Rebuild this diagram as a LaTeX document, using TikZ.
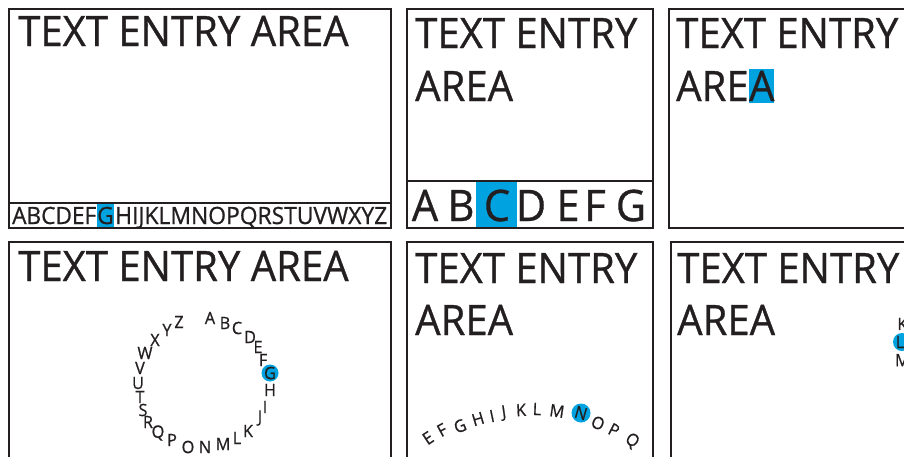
\documentclass[tikz,border=0pt]{standalone}
\usepackage{fontspec}
\setmainfont[FakeStretch=0.955,FakeBold=0.8]{Open Sans}
\usepackage{graphicx}
\usetikzlibrary{calc}
\definecolor{ink}{RGB}{35,31,32}
\definecolor{hl}{RGB}{0,163,224}
\begin{document}
\begin{tikzpicture}[x=1pt,y=-1pt,
  panel/.style={draw=ink, line width=2pt},
  divider/.style={draw=ink, line width=1.6pt},
  title/.style={anchor=base west, inner sep=0pt, text=ink, font=\fontsize{42}{42}\selectfont},
  striptext/.style={anchor=base west, inner sep=0pt, text=ink, font=\fontsize{23.8}{24}\selectfont},
  bigkey/.style={anchor=base, inner sep=0pt, text=ink, font=\fontsize{43.4}{44}\selectfont},
  smallkey/.style={inner sep=0pt, text=ink, font=\fontsize{17}{17}\selectfont},
  dot/.style={fill=hl, draw=none}]
\useasboundingbox (0,0) rectangle (904,456);
\clip (0,0) rectangle (904,456);
% ---------- panel 1 ----------
\fill[hl] (97,203) rectangle (114,227);
\draw[panel] (9,9) rectangle (391,228);
\draw[divider] (9,203) -- (391,203);
\node[title] (t1) at (18,46) {TEXT ENTRY AREA};
\node[striptext] (s1a) at (12,224) {\resizebox{84pt}{\height}{ABCDEF}};
\node[striptext, anchor=base] (s1b) at (105.5,224) {G};
\node[striptext] (s1c) at (115,224) {\resizebox{272pt}{\height}{HIJKLMNOPQRSTUVWXYZ}};
% ---------- panel 2 ----------
\fill[hl] (476,181) rectangle (517,227);
\draw[panel] (407,9) rectangle (653,228);
\draw[divider] (407,181) -- (653,181);
\node[title] (t2a) at (415,48) {TEXT ENTRY};
\node[title] (t2b) at (415,101) {AREA};
\foreach \l/\x in {A/425,B/461,C/497,D/531,E/568,F/595,G/631}
  \node[bigkey] (k2\l) at (\x,221) {\l};
% ---------- panel 3 ----------
\draw[panel] (669,9) rectangle (930,228);
\node[title] (t3a) at (676,48) {TEXT ENTRY};
\node[title] (t3b) at (676,101) {ARE};
\node[title, fill=hl, text height=32pt, text depth=2pt] (t3c) at (t3b.base east) {A};
% ---------- panel 4 ----------
\draw[panel] (9,242) rectangle (391,480);
\node[title] (t4) at (18,281) {TEXT ENTRY AREA};
\fill[dot] (270,373) circle (8.5);
\foreach \l/\x/\y in {A/210/318,B/225/323,C/237/328,D/250/337,E/258/347,F/263/360,G/270/373,
  H/270/390,I/265/407,J/260/418,K/248/431,L/237/438,M/223/444,N/205/447,O/188/447,
  P/172/440,Q/158/433,R/148/422,S/143/410,T/140/397,U/138/383,V/140/368,W/145/353,
  X/155/340,Y/167/330,Z/179/322}
  \node[smallkey] (c\l) at (\x,\y) {\l};
% ---------- panel 5 ----------
\draw[panel] (407,242) rectangle (653,480);
\node[title] (t5a) at (415,283) {TEXT ENTRY};
\node[title] (t5b) at (415,335) {AREA};
\fill[dot] (581,413) circle (9.5);
\foreach \l/\x/\y in {E/428/438,F/442/430,G/460/426,H/478/419,I/492/416,J/504/413,
  K/521/410,L/537/409,M/557/411,N/581/413,O/598/423,P/614/430,Q/632/441}{
  \pgfmathsetmacro\rot{asin((530-\x)/185)}
  \node[smallkey, rotate=\rot] (a\l) at (\x,\y) {\l};
}
% ---------- panel 6 ----------
\draw[panel] (671,242) rectangle (930,480);
\node[title] (t6a) at (677,283) {TEXT ENTRY};
\node[title] (t6b) at (677,335) {AREA};
\fill[dot] (902,342) circle (9);
\foreach \l/\ang in {J/210,K/195,L/180,M/165,N/150,O/135}
  \node[smallkey] (v\l) at ($(970,342)+(\ang:70)$) {\l};
\end{tikzpicture}
\end{document}
